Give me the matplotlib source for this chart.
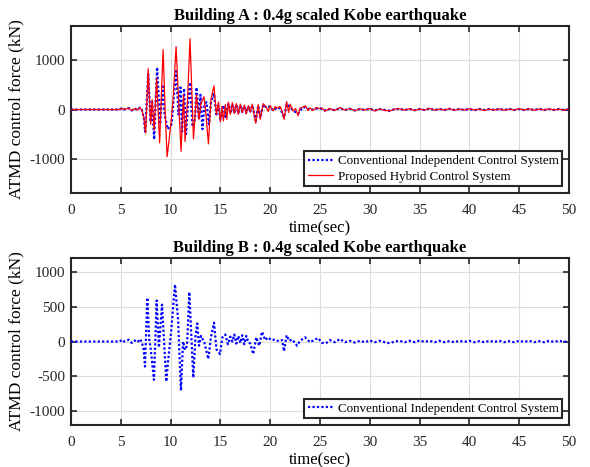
import matplotlib
matplotlib.use("Agg")
import matplotlib.pyplot as plt

plt.rcParams['font.family'] = ['Liberation Serif', 'DejaVu Serif']
plt.rcParams['axes.unicode_minus'] = False

# ---- Building A : hybrid (red) ----
t_a_hyb = [0, 4.9, 5.1, 5.3, 5.5, 5.8, 6.1, 6.4, 6.7, 6.9, 7.1, 7.3, 7.5, 7.75, 8.0, 8.15, 8.35, 8.6,
           8.9, 9.25, 9.45, 9.65, 9.85, 10.05, 10.25, 10.55, 10.8, 11.05, 11.3, 11.45, 11.7, 11.95,
           12.3, 12.6, 12.85, 13.05, 13.35, 13.55, 13.8, 14.05, 14.35, 14.6, 14.8, 15.0, 15.15, 15.3,
           15.5, 15.65, 15.8, 16.0, 16.2, 16.4, 16.6, 16.8, 17.0, 17.2, 17.4, 17.6, 17.8, 18.0, 18.2,
           18.35, 18.55, 18.8, 19.0, 19.3, 19.6, 19.8, 20.0, 20.3, 20.5, 20.7, 21.0, 21.2, 21.4, 21.65,
           21.85, 22.0, 22.3, 22.55, 22.8, 23.0, 23.2, 23.55, 23.8, 24.0, 24.3, 24.6, 24.9, 25.2, 25.5,
           26.0, 26.5, 27.0, 27.5, 28.0, 28.5, 29.0, 29.5, 30.0, 30.5, 31.0, 31.5, 32.0, 32.5, 33.0,
           33.5, 34.0, 34.5, 35.0, 35.5, 36.0, 36.5, 37.0, 37.5, 38.0, 38.5, 39.0, 39.5, 40.0, 40.5,
           41.0, 41.5, 42.0, 42.5, 43.0, 43.5, 44.0, 44.5, 45.0, 45.5, 46.0, 46.5, 47.0, 47.5, 48.0,
           48.5, 49.0, 49.5, 50.0]
f_a_hyb = [0, 0, 30, 0, 10, 30, -20, 20, -10, 40, 0, -150, -480, 830, -300, 200, -420, 640,
           -680, 1220, 0, -960, -620, -250, 200, 1280, 200, -850, 300, -650, 200, 1440,
           -600, 300, -200, 120, 260, -100, -700, 200, 480, -100, 150, -250, 60, -230,
           100, -200, 150, -100, 140, -80, 120, -100, 110, -60, 90, -90, 80, -50, 110,
           -60, -280, 100, -200, 120, 50, -40, 80, -30, 60, 30, 60, -40, -200, 160,
           -60, 110, -30, 20, -130, 30, 40, 75, -20, 30, -20, 40, 20, 30, -30,
           20, -20, 40, -10, 20, -25, 15, -10, 20, -30, 10, -15, -30, 10, 15,
           -10, 15, -20, 10, -10, 25, -15, 10, -10, 20, -15, 10, -10, 15, -10,
           10, -20, 10, -10, 15, -15, 10, -10, 20, -10, 15, -15, 10, -10, 15,
           -10, 10, -15, 10]

# ---- Building A : conventional (blue) ----
t_a_conv = [0, 4.9, 5.1, 5.3, 5.5, 5.8, 6.1, 6.4, 6.7, 6.9, 7.1, 7.3, 7.45, 7.75, 8.0, 8.15, 8.35, 8.65,
            8.95, 9.2, 9.4, 9.7, 9.9, 10.1, 10.3, 10.55, 10.8, 11.0, 11.15, 11.35, 11.55, 11.75, 11.95,
            12.2, 12.45, 12.6, 12.85, 13.0, 13.2, 13.4, 13.6, 13.85, 14.05, 14.35, 14.6, 14.8, 15.0,
            15.3, 15.5, 15.8, 16.0, 16.2, 16.4, 16.6, 16.8, 17.0, 17.2, 17.4, 17.6, 17.8, 18.0, 18.2,
            18.35, 18.55, 18.8, 19.0, 19.3, 19.6, 20.0, 20.3, 20.7, 21.0, 21.4, 21.65, 22.0, 22.3,
            22.8, 23.2, 23.55, 24.0, 24.5, 25.0, 25.5, 26.0, 26.5, 27.0, 27.5, 28.0, 28.5, 29.0, 29.5,
            30.0, 30.5, 31.0, 31.5, 32.0, 32.5, 33.0, 33.5, 34.0, 34.5, 35.0, 35.5, 36.0, 36.5, 37.0,
            37.5, 38.0, 38.5, 39.0, 39.5, 40.0, 40.5, 41.0, 41.5, 42.0, 42.5, 43.0, 43.5, 44.0, 44.5,
            45.0, 45.5, 46.0, 46.5, 47.0, 47.5, 48.0, 48.5, 49.0, 49.5, 50.0]
f_a_conv = [0, 0, 30, 0, 10, 30, -20, 20, -10, 40, 0, -150, -450, 720, -250, 150, -610, 860,
            -300, 470, -100, -400, -350, -300, 200, 780, -100, 450, -450, 430, -500, 100, 550,
            -350, -200, 450, -200, 300, -400, 100, 150, -300, 150, 330, -100, 80, -200,
            90, -150, 120, -80, 110, -70, 100, -80, 90, -50, 70, -70, 60, -40, 90,
            -50, -230, 80, -170, 100, 40, 60, -20, 40, 20, -160, 110, 50, -20,
            -90, 30, 50, -15, 15, 25, -20, 10, -15, 30, -10, 15, -20, 10, -10,
            15, -20, 10, -10, -25, 10, 10, -10, 10, -15, 10, -10, 20, -10, 10,
            -10, 15, -10, 10, -10, 10, -15, 10, -10, 10, -10, 10, -10, 15, -10,
            10, -10, 10, -10, 15, -10, 10, -10, 10, -10, 5]

# ---- Building B : conventional (blue) ----
t_b_conv = [0, 4.9, 5.1, 5.3, 5.5, 5.8, 6.1, 6.4, 6.7, 6.9, 7.1, 7.3, 7.43, 7.66, 7.86, 8.0, 8.33, 8.6,
            8.83, 9.14, 9.57, 9.75, 10.05, 10.44, 10.75, 11.04, 11.25, 11.45, 11.65, 11.88, 12.28,
            12.5, 12.68, 12.85, 13.05, 13.4, 13.79, 14.05, 14.36, 14.6, 14.96, 15.2, 15.5, 15.75,
            16.0, 16.2, 16.4, 16.6, 16.8, 17.0, 17.2, 17.4, 17.6, 17.8, 18.0, 18.3, 18.6, 18.9, 19.18,
            19.5, 19.8, 20.1, 20.5, 20.9, 21.2, 21.39, 21.65, 21.9, 22.2, 22.7, 23.0, 23.5, 24.0,
            24.4, 24.8, 25.2, 25.6, 26.0, 26.5, 27.0, 27.5, 28.0, 28.5, 29.0, 29.5, 30.0, 30.5, 31.0,
            31.5, 32.0, 32.5, 33.0, 33.5, 34.0, 34.5, 35.0, 35.5, 36.0, 36.5, 37.0, 37.5, 38.0, 38.5,
            39.0, 39.5, 40.0, 40.5, 41.0, 41.5, 42.0, 42.5, 43.0, 43.5, 44.0, 44.5, 45.0, 45.5, 46.0,
            46.5, 47.0, 47.5, 48.0, 48.5, 49.0, 49.5, 50.0]
f_b_conv = [0, 0, 25, 0, 10, 25, -20, 15, -10, 35, 0, -120, -360, 630, 30, -100, -550, 590,
            -85, 530, -575, -280, 130, 820, 320, -705, 0, -120, -60, 710, -520,
            80, 260, -60, 80, -20, -250, 60, 270, -110, -180, 60, 100, -40,
            70, 0, 100, -30, 80, -20, 90, -40, 80, -10, -30, -180, 60, -60, 140,
            20, 60, 20, 30, 0, 20, -140, 90, 10, 30, -60, 10, 60, -10,
            20, 50, -20, -25, 20, -10, 35, -10, 10, -15, 10, -10, 15, -10, 10,
            -10, -25, 0, 10, -10, 10, -10, 15, -5, 10, -10, 10, -10, 5, -10,
            10, -5, 10, -10, 5, -10, 10, -5, 10, -10, 5, -10, 10, -5, 10,
            -10, 5, -10, 10, -5, 10, -5, 5]

titles = ["Building A : 0.4g scaled Kobe earthquake", "Building B : 0.4g scaled Kobe earthquake"]
x_ticks = list(range(0, 51, 5))
y_ticks_a = [-1000, 0, 1000]
y_ticks_b = [-1000, -500, 0, 500, 1000]
lab_conv = "Conventional Independent Control System"
lab_hyb = "Proposed Hybrid Control System"

fig = plt.figure(figsize=(5.9, 4.67), dpi=100)
ax1 = fig.add_axes([0.1203, 0.5867, 0.8441, 0.3576])
ax2 = fig.add_axes([0.1203, 0.0899, 0.8441, 0.3576])

blue = (0, 0, 1)
ax1.plot(t_a_conv, f_a_conv, color=blue, ls=(0, (1, 1)), lw=1.6, label=lab_conv, zorder=3)
ax1.plot(t_a_hyb, f_a_hyb, color=(1, 0, 0), ls='-', lw=0.9, label=lab_hyb, zorder=4)
ax2.plot(t_b_conv, f_b_conv, color=blue, ls=(0, (1, 1)), lw=1.6, label=lab_conv, zorder=3)

for ax, title, yt, ylim in [(ax1, titles[0], y_ticks_a, 1700), (ax2, titles[1], y_ticks_b, 1200)]:
    ax.set_xlim(0, 50)
    ax.set_ylim(-ylim, ylim)
    ax.set_xticks(x_ticks)
    ax.set_yticks(yt)
    ax.grid(True, color='#dcdcdc', lw=0.8)
    ax.set_axisbelow(True)
    ax.tick_params(direction='in', top=True, right=True, labelsize=11, length=4, width=1.2,
                   colors='#262626')
    ax.tick_params(axis='x', pad=8)
    ax.tick_params(axis='y', pad=4)
    for s in ax.spines.values():
        s.set_linewidth(1.5)
        s.set_color('#262626')
    ax.set_title(title, fontsize=12, fontweight='bold', pad=4)
    ax.set_xlabel("time(sec)", fontsize=12, labelpad=2)
    ax.set_ylabel("ATMD control force (kN)", fontsize=12.5, labelpad=4)
    leg = ax.legend(loc='lower right', fontsize=9.4, frameon=True, fancybox=False,
                    borderaxespad=0.5, handlelength=1.9, handletextpad=0.35,
                    borderpad=0.3, labelspacing=0.25)
    leg.get_frame().set_edgecolor('#262626')
    leg.get_frame().set_linewidth(1.5)
    leg.get_frame().set_alpha(1)

fig.savefig("out.png", dpi=100)
